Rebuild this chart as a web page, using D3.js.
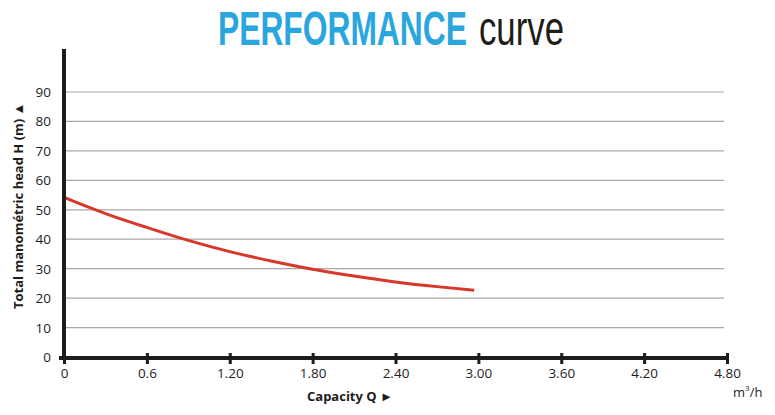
<!DOCTYPE html>
<html>
<head>
<meta charset="utf-8">
<script src="https://cdn.jsdelivr.net/npm/d3@7"></script>
<style>
  body { margin: 0; background: #fff; }
  text { font-family: "Open Sans", sans-serif; }
</style>
</head>
<body>
<div id="chart"></div>
<script>
// capacity Q (m3/h) and total head H (m)
var flow = [0, 0.3, 0.6, 0.9, 1.2, 1.5, 1.8, 2.1, 2.4, 2.7, 2.97];
var head = [54.2, 48.7, 44.0, 39.6, 35.8, 32.6, 29.8, 27.5, 25.5, 23.9, 22.7];

var xTicks = [0, 0.6, 1.2, 1.8, 2.4, 3.0, 3.6, 4.2, 4.8];
var xTickLabels = ["0", "0.6", "1.20", "1.80", "2.40", "3.00", "3.60", "4.20", "4.80"];
var yTicks = [0, 10, 20, 30, 40, 50, 60, 70, 80, 90];

var width = 775, height = 415;
var left = 64, right = 727, bottom = 357, top90 = 92;

var svg = d3.select("#chart").append("svg")
    .attr("width", width)
    .attr("height", height);

var x = d3.scaleLinear().domain([0, 4.8]).range([left, right]);
var y = d3.scaleLinear().domain([0, 90]).range([bottom, top90]);

// title words are condensed: draw them, measure, then squeeze horizontally
function condensedWord(txt, x0, targetW, weight, color) {
    var g = svg.append("g");
    var t = g.append("text")
        .text(txt)
        .attr("x", 0)
        .attr("y", 0)
        .style("font-family", "'Liberation Sans', Arial, sans-serif")
        .attr("font-size", "49px")
        .attr("font-weight", weight)
        .attr("fill", color);
    var w = t.node().getComputedTextLength();
    g.attr("transform", "translate(" + x0 + ",45) scale(" + (targetW / w) + ",1)");
}
condensedWord("PERFORMANCE", 218, 249, "bold", "#2aa6df");
condensedWord("curve", 479, 85, "normal", "#1d1d1b");

// horizontal grid lines
svg.selectAll("line.grid")
    .data(yTicks.filter(function (d) { return d > 0; }))
    .enter()
    .append("line")
    .attr("class", "grid")
    .attr("x1", left)
    .attr("x2", 724)
    .attr("y1", function (d) { return y(d); })
    .attr("y2", function (d) { return y(d); })
    .attr("stroke", "#a8a8a8")
    .attr("stroke-width", 1.2);

// y tick labels
svg.selectAll("text.ylab")
    .data(yTicks)
    .enter()
    .append("text")
    .attr("class", "ylab")
    .text(function (d) { return d; })
    .attr("text-anchor", "end")
    .attr("x", 51)
    .attr("y", function (d) { return y(d) + 5; })
    .attr("font-size", "13.5px")
    .attr("fill", "#1d1d1b");

// performance curve
var line = d3.line()
    .x(function (d) { return x(d[0]); })
    .y(function (d) { return y(d[1]); })
    .curve(d3.curveNatural);

svg.append("path")
    .datum(d3.zip(flow, head))
    .attr("d", line)
    .attr("fill", "none")
    .attr("stroke", "#d8372b")
    .attr("stroke-width", 3);

// y axis
svg.append("line")
    .attr("x1", left).attr("x2", left)
    .attr("y1", 49).attr("y2", bottom + 2)
    .attr("stroke", "#1d1d1b")
    .attr("stroke-width", 4);

// x axis
var xAxis = d3.axisBottom(x)
    .tickValues(xTicks)
    .tickFormat(function (d, i) { return xTickLabels[i]; })
    .tickSize(0)
    .tickPadding(10);

var gx = svg.append("g")
    .attr("transform", "translate(0," + (bottom + 1) + ")")
    .call(xAxis);
gx.select(".domain")
    .attr("d", "M" + (left - 5) + ",0H" + (right + 1))
    .attr("stroke", "#1d1d1b")
    .attr("stroke-width", 4);
gx.selectAll(".tick line")
    .attr("y1", -5)
    .attr("y2", 6)
    .attr("stroke", "#1d1d1b")
    .attr("stroke-width", 3);
gx.selectAll(".tick text")
    .attr("font-size", "13.5px")
    .attr("fill", "#1d1d1b");

// unit
var unit = svg.append("text")
    .attr("x", 733)
    .attr("y", 397)
    .attr("font-size", "13px")
    .attr("fill", "#1d1d1b");
unit.append("tspan").text("m");
unit.append("tspan").text("3").attr("font-size", "8px").attr("dy", -6);
unit.append("tspan").text("/h").attr("dy", 6);

// axis titles
svg.append("text")
    .text("Capacity Q  \u25BA")
    .attr("x", 307)
    .attr("y", 401)
    .attr("font-size", "13px")
    .attr("font-weight", "bold")
    .attr("fill", "#1d1d1b");

svg.append("text")
    .text("Total manométric head H (m)  \u25B2")
    .attr("transform", "translate(23,309) rotate(-90)")
    .attr("font-size", "13px")
    .attr("font-weight", "bold")
    .attr("fill", "#1d1d1b");
</script>
</body>
</html>
